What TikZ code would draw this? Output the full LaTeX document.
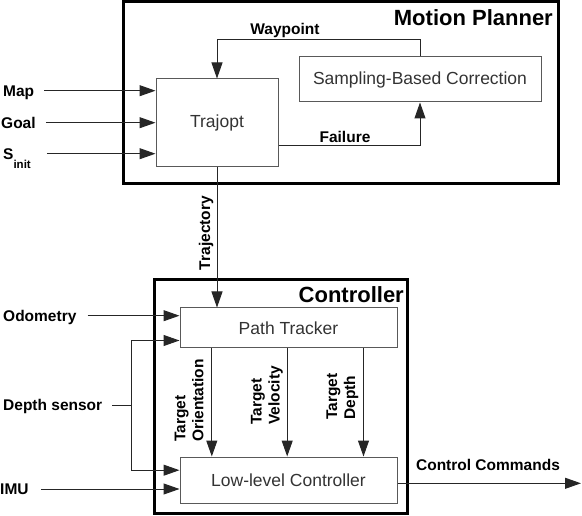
\documentclass[tikz,border=0pt]{standalone}
\usepackage{fontspec}
\setmainfont{Liberation Sans}
\usetikzlibrary{arrows.meta}

\begin{document}
\begin{tikzpicture}[x=1pt,y=-1pt]
        \tikzstyle{every node}+=[inner sep=0pt]
        \tikzstyle{block}=[draw=black!65, line width=1pt, text=black!80, font=\fontsize{17.5}{21}\selectfont]
        \tikzstyle{frame}=[draw=black, line width=3pt]
        \tikzstyle{lbl}=[font=\fontsize{15.5}{18}\selectfont\bfseries, text height=11pt, text depth=0pt]
        \tikzstyle{rlbl}=[font=\fontsize{15.5}{18}\selectfont\bfseries, rotate=90, align=left, anchor=west]
        \tikzstyle{title}=[font=\fontsize{22}{26}\selectfont\bfseries, anchor=east]
        \tikzstyle{line}=[draw=black!85, line width=1pt]
        \tikzstyle{arr}=[line, -{Triangle[length=16pt,width=11pt]}]
        \useasboundingbox (0,0) rectangle (582,516);
        % motion planner
        \node [frame, minimum width=435, minimum height=182] (planner) at (341,92.5) {};
        \node [title] (plannertitle) at (553,18) {Motion Planner};
        \node [block, minimum width=122, minimum height=88] (trajopt) at (217,123) {Trajopt};
        \node [block, minimum width=242, minimum height=45] (sbc) at (420,79.5) {Sampling-Based Correction};
        \draw [arr] (sbc.north) -- ++(0,-16.5) -| (trajopt.north);
        \node [lbl] (waypoint) at (285,29.5) {Waypoint};
        \draw [arr] ([yshift=-22.3pt]trajopt.east) -| (sbc.south);
        \node [lbl] (failure) at (345,137.5) {Failure};
        % planner inputs
        \node [lbl, anchor=west] (map) at (3,90.7) {Map};
        \node [lbl, anchor=west] (goal) at (1,122.7) {Goal};
        \node [lbl, anchor=west] (sinit) at (3,153.7) {S\raisebox{-1.1ex}{\fontsize{11.5}{12}\selectfont init}};
        \draw [arr] ([xshift=10pt]map.east) -- (map -| trajopt.west);
        \draw [arr] ([xshift=10pt]goal.east) -- (goal -| trajopt.west);
        \draw [arr] ([xshift=16pt]sinit.east) -- (sinit -| trajopt.west);
        % controller
        \node [frame, minimum width=252.5, minimum height=234] (controller) at (281,396.7) {};
        \node [title] (controllertitle) at (404,295) {Controller};
        \node [block, minimum width=217, minimum height=40] (tracker) at (288.5,328) {Path Tracker};
        \node [block, minimum width=217, minimum height=46] (lowlevel) at (288.5,480) {Low-level Controller};
        \draw [arr] (trajopt.south) -- (tracker.north -| trajopt.south);
        \node [rlbl, anchor=center] (trajectory) at (206,233) {Trajectory};
        \foreach \dx in {32.3,107.7,184}
          \draw [arr] ([xshift=\dx pt]tracker.south west) -- ([xshift=\dx pt]lowlevel.north west);
        \node [rlbl] (orientation) at (189,442) {Target\\Orientation};
        \node [rlbl] (velocity) at (267,425) {Target\\Velocity};
        \node [rlbl] (depthtarget) at (342.5,420) {Target\\Depth};
        % controller inputs
        \node [lbl, anchor=west] (odom) at (3,315.7) {Odometry};
        \node [lbl, anchor=west] (depth) at (3,405) {Depth sensor};
        \node [lbl, anchor=west] (imu) at (0,489) {IMU};
        \coordinate (split) at (131,405);
        \draw [arr] ([xshift=11pt]odom.east) -- (odom -| tracker.west);
        \draw [line] ([xshift=10pt]depth.east) -- (split);
        \draw [arr] (split) |- ([yshift=8pt]tracker.south west);
        \draw [arr] (split) |- ([yshift=-13.7pt]lowlevel.north west);
        \draw [arr] ([xshift=12pt]imu.east) -- (imu -| lowlevel.west);
        % output
        \coordinate (out) at (581,483.3);
        \draw [arr] ([yshift=-3.3pt]lowlevel.east) -- (out);
        \node [lbl] (commands) at (488,464.5) {Control Commands};
\end{tikzpicture}
\end{document}
